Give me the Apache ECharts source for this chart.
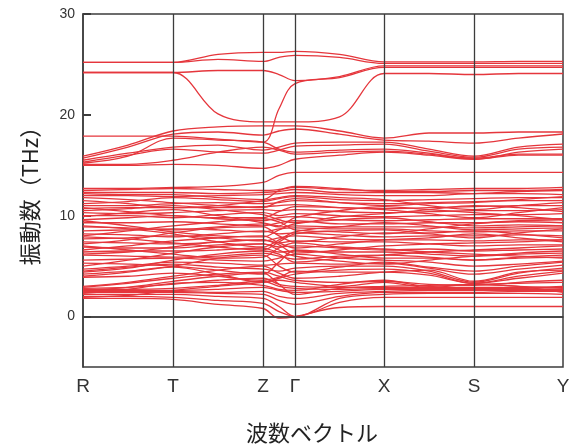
<!DOCTYPE html>
<html>
<head>
<meta charset="utf-8">
<script src="https://cdn.jsdelivr.net/npm/echarts@6/dist/echarts.min.js"></script>
<style>
html,body{margin:0;padding:0;background:#fff;}
#chart{width:579px;height:448px;}
</style>
</head>
<body>
<div id="chart"></div>
<script>
// Sample positions along the k-path (cumulative path length, arbitrary units)
// order: R, R-T, T, T-Z, Z, Z-Γ, Γ, Γ-X, X, X-S, S, S-Y, Y
const kPath = [0, 45, 90, 135, 180, 196, 212, 256.5, 301, 346, 391, 435.5, 480];

// High-symmetry points
const symLabels = ['R', 'T', 'Z', 'Γ', 'X', 'S', 'Y'];
const symPos = [0, 90, 180, 212, 301, 391, 480];

// Frequency axis tick values (THz)
const yTicks = [0, 10, 20, 30];

// Optical branches above 20 THz
const highBands = [
  [25.2, 25.2, 25.2, 26.0, 26.2, 26.2, 26.3, 26.0, 25.25, 25.25, 25.25, 25.3, 25.3],
  [25.2, 25.2, 25.2, 25.5, 25.3, 25.7, 25.9, 25.7, 25.1, 25.1, 25.1, 25.1, 25.1],
  [24.2, 24.2, 24.2, 24.4, 24.4, 24.0, 23.4, 23.8, 24.85, 24.85, 24.85, 24.85, 24.85],
  [24.2, 24.2, 24.2, 20.1, 19.3, 19.3, 19.3, 19.8, 24.1, 24.1, 24.0, 24.1, 24.1],
  [17.9, 17.9, 17.9, 17.6, 17.3, 20.6, 23.1, 23.7, 24.7, 24.7, 24.7, 24.7, 24.7]
];

// Branches between 14 and 19 THz
const midBands = [
  [15.9, 17.0, 18.4, 18.8, 18.9, 18.9, 18.9, 18.4, 17.7, 18.2, 18.2, 18.3, 18.3],
  [15.7, 16.8, 18.1, 18.3, 18.0, 18.4, 18.6, 18.1, 17.5, 17.4, 17.2, 17.7, 18.1],
  [15.5, 16.2, 16.8, 17.0, 16.5, 16.8, 17.2, 17.3, 17.3, 16.6, 15.9, 16.8, 17.1],
  [15.3, 16.0, 16.6, 16.3, 16.2, 16.5, 16.9, 17.0, 17.1, 16.4, 15.8, 16.6, 16.8],
  [15.1, 15.1, 15.5, 16.3, 16.8, 16.5, 16.1, 16.3, 16.4, 16.1, 15.7, 16.1, 16.1],
  [15.0, 15.0, 15.1, 15.0, 14.7, 15.0, 15.6, 16.0, 16.3, 16.0, 15.6, 16.0, 16.0],
  [12.7, 12.7, 12.8, 12.9, 13.3, 14.0, 14.3, 14.3, 14.3, 14.3, 14.3, 14.3, 14.3],
  [15.2, 15.9, 17.7, 17.5, 17.3, 16.6, 16.3, 16.5, 16.6, 16.2, 15.6, 16.3, 16.6]
];

// Acoustic and low-lying optical branches (0 - 13 THz)
const lowBands = [
  [1.8, 1.8, 1.7, 1.2, 0.8, -0.15, 0.0, 0.9, 1.0, 1.0, 1.0, 1.0, 1.0],
  [2.0, 2.0, 1.9, 1.6, 1.3, 0.5, 0.0, 1.4, 1.9, 1.9, 1.9, 1.9, 1.9],
  [2.2, 2.2, 2.2, 2.0, 1.8, 1.0, 0.0, 1.8, 2.2, 2.3, 2.3, 2.3, 2.2],
  [2.4, 2.4, 2.4, 2.3, 2.2, 1.6, 1.2, 2.0, 2.4, 2.4, 2.4, 2.5, 2.5],
  [2.5, 2.5, 2.5, 2.4, 2.5, 2.0, 1.8, 2.3, 2.5, 2.6, 2.6, 2.6, 2.6],
  [2.6, 2.6, 2.6, 2.7, 2.9, 2.6, 2.4, 2.5, 2.7, 2.7, 2.7, 2.7, 2.7],
  [2.7, 2.7, 2.8, 3.1, 3.5, 3.0, 2.8, 2.7, 2.8, 2.8, 2.8, 2.8, 2.9],
  [2.8, 2.9, 3.2, 3.6, 3.8, 3.2, 3.0, 2.9, 2.9, 2.9, 2.9, 2.9, 3.0],
  [1.9, 2.1, 2.6, 3.0, 3.4, 3.6, 3.4, 3.0, 3.4, 2.9, 3.2, 3.0, 2.4],
  [2.3, 2.7, 3.3, 3.4, 3.1, 2.7, 2.6, 3.2, 3.6, 3.0, 3.2, 3.0, 2.8],
  [3.9, 4.0, 4.3, 4.0, 3.6, 3.9, 4.5, 4.4, 4.4, 4.1, 3.3, 3.8, 4.3],
  [4.2, 4.5, 4.9, 4.2, 3.4, 3.8, 4.2, 4.6, 4.7, 4.3, 3.3, 4.0, 4.5],
  [4.5, 4.9, 5.2, 4.9, 4.7, 4.5, 4.8, 5.0, 5.0, 4.5, 3.4, 4.3, 4.8],
  [4.7, 5.0, 5.4, 5.3, 5.1, 5.2, 5.3, 5.2, 5.3, 4.8, 4.2, 4.7, 5.1],
  [5.6, 5.7, 5.8, 5.6, 5.5, 5.8, 6.2, 5.8, 5.6, 5.4, 5.0, 5.2, 5.5],
  [6.1, 6.0, 5.9, 6.0, 6.3, 6.0, 5.7, 6.0, 6.1, 5.9, 5.6, 5.8, 5.9],
  [6.4, 6.5, 6.5, 6.6, 6.8, 6.4, 6.5, 6.4, 6.4, 6.2, 6.0, 6.2, 6.3],
  [6.9, 6.8, 6.8, 7.1, 7.2, 6.9, 7.0, 6.8, 6.6, 6.7, 6.5, 6.6, 6.7],
  [7.4, 7.3, 7.2, 7.4, 7.6, 7.3, 7.5, 7.4, 7.4, 7.2, 7.0, 7.1, 7.1],
  [7.7, 7.8, 8.0, 7.8, 7.5, 7.8, 8.0, 7.7, 7.6, 7.6, 7.5, 7.6, 7.6],
  [8.2, 8.1, 7.9, 8.2, 8.5, 8.2, 8.3, 8.1, 7.9, 8.0, 8.0, 8.1, 8.0],
  [8.5, 8.6, 8.7, 8.6, 8.4, 8.7, 8.8, 8.7, 8.7, 8.5, 8.4, 8.5, 8.5],
  [8.9, 8.8, 8.6, 8.9, 9.2, 8.9, 9.0, 8.9, 8.9, 8.9, 8.8, 8.9, 9.0],
  [9.3, 9.3, 9.4, 9.2, 9.0, 9.3, 9.5, 9.2, 9.2, 9.3, 9.3, 9.4, 9.3],
  [9.6, 9.8, 10.0, 9.7, 9.5, 9.8, 9.9, 9.6, 9.5, 9.6, 9.7, 9.7, 9.7],
  [10.0, 10.0, 9.8, 10.1, 10.3, 10.0, 10.2, 10.0, 9.9, 10.0, 10.1, 10.1, 10.2],
  [10.3, 10.2, 10.3, 10.5, 10.6, 10.5, 10.6, 10.4, 10.3, 10.4, 10.5, 10.5, 10.6],
  [10.7, 10.8, 10.8, 10.8, 10.9, 11.0, 11.1, 10.8, 10.7, 10.8, 10.9, 11.0, 11.0],
  [11.0, 11.0, 11.2, 11.3, 11.2, 11.3, 11.5, 11.3, 11.2, 11.3, 11.4, 11.5, 11.5],
  [11.2, 11.4, 11.8, 11.6, 11.4, 11.7, 11.9, 11.6, 11.5, 11.6, 11.7, 11.8, 11.8],
  [12.0, 12.0, 11.9, 12.0, 12.1, 12.2, 12.3, 12.1, 12.0, 12.0, 12.2, 12.2, 12.1],
  [12.3, 12.3, 12.3, 12.2, 12.3, 12.4, 12.6, 12.3, 12.3, 12.3, 12.2, 12.4, 12.5],
  [12.5, 12.6, 12.7, 12.6, 12.5, 12.6, 12.8, 12.6, 12.5, 12.6, 12.7, 12.7, 12.8],
  [5.0, 5.6, 6.3, 6.9, 7.2, 6.6, 6.0, 5.5, 5.2, 5.6, 6.0, 6.3, 6.5],
  [7.0, 6.6, 6.2, 5.8, 5.9, 6.8, 7.3, 6.9, 6.7, 6.4, 6.2, 6.0, 5.8],
  [9.5, 9.0, 8.4, 8.0, 7.9, 8.6, 9.2, 9.6, 9.8, 9.4, 9.0, 9.1, 9.0],
  [8.0, 8.5, 9.0, 9.4, 9.7, 9.4, 8.6, 8.4, 8.2, 8.7, 9.2, 9.5, 9.6],
  [10.8, 10.4, 10.0, 9.8, 9.8, 10.4, 10.9, 10.8, 10.6, 10.2, 9.8, 10.3, 10.8],
  [11.5, 11.2, 10.8, 11.0, 11.5, 11.8, 12.0, 11.8, 11.6, 11.0, 10.6, 11.0, 11.3],
  [4.4, 4.8, 5.6, 6.2, 6.5, 6.2, 5.4, 5.8, 6.1, 6.4, 6.6, 6.8, 7.0],
  [6.6, 7.0, 7.5, 7.8, 8.0, 7.3, 6.8, 7.2, 7.6, 7.8, 8.2, 7.8, 7.4],
  [2.9, 3.3, 3.8, 4.2, 4.4, 4.0, 3.6, 3.4, 3.5, 3.2, 3.1, 3.4, 3.6],
  [4.0, 4.4, 5.0, 5.8, 6.1, 5.0, 4.4, 4.9, 5.4, 4.9, 4.5, 5.0, 5.4],
  [5.3, 5.2, 5.0, 4.6, 4.2, 5.4, 6.6, 6.2, 5.8, 5.8, 5.6, 5.9, 6.1],
  [7.2, 7.6, 8.3, 8.8, 8.9, 8.0, 7.4, 7.9, 8.3, 8.2, 7.8, 8.3, 8.7],
  [9.0, 8.7, 8.2, 7.4, 6.9, 7.6, 8.4, 8.9, 9.3, 9.0, 8.6, 8.7, 8.8],
  [10.5, 10.7, 11.0, 10.6, 10.1, 9.6, 9.3, 9.9, 10.2, 10.6, 11.0, 10.8, 10.4],
  [11.8, 11.6, 11.3, 11.0, 10.8, 11.4, 11.7, 11.3, 11.0, 11.2, 11.3, 11.6, 11.9],
  [6.2, 6.4, 6.9, 7.4, 7.6, 7.1, 6.3, 6.6, 7.0, 7.2, 7.3, 7.4, 7.6],
  [3.0, 3.4, 4.0, 4.6, 5.0, 4.3, 3.8, 4.0, 4.4, 4.6, 3.5, 4.4, 4.6],
  [2.6, 2.9, 3.5, 4.0, 4.3, 3.2, 2.2, 2.8, 3.0, 3.1, 3.2, 3.3, 3.4],
  [12.2, 12.1, 12.1, 11.8, 11.6, 12.5, 12.9, 12.7, 12.4, 12.4, 12.5, 12.5, 12.6],
  [7.9, 7.7, 7.3, 6.9, 6.6, 7.4, 8.2, 8.5, 8.6, 8.3, 8.5, 8.2, 7.8],
  [9.9, 10.3, 10.6, 10.0, 9.3, 9.0, 9.8, 10.5, 10.9, 10.6, 10.3, 10.0, 9.6]
];

const BAND_COLOR = '#e5363c';
const FRAME_COLOR = '#3c3c3c';

const allBands = highBands.concat(midBands, lowBands);

const bandSeries = allBands.map(function (band) {
  return {
    type: 'line',
    data: kPath.map(function (k, i) { return [k, band[i]]; }),
    smooth: 0.35,
    showSymbol: false,
    silent: true,
    lineStyle: { color: BAND_COLOR, width: 1.3 },
    z: 2
  };
});

// Vertical separators at the inner high-symmetry points and the zero-frequency line
const guideSeries = {
  type: 'line',
  data: [],
  silent: true,
  z: 5,
  markLine: {
    silent: true,
    symbol: 'none',
    animation: false,
    label: { show: false },
    lineStyle: { color: FRAME_COLOR, width: 1.3, type: 'solid' },
    data: symPos.slice(1, -1).map(function (x) { return { xAxis: x }; })
      .concat([{ yAxis: 0, lineStyle: { color: FRAME_COLOR, width: 1.5, type: 'solid' } }])
  }
};

const chart = echarts.init(document.getElementById('chart'), null, { renderer: 'canvas' });

chart.setOption({
  animation: false,
  backgroundColor: '#ffffff',
  grid: {
    left: 83, right: 16, top: 14, bottom: 81,
    show: true, borderColor: FRAME_COLOR, borderWidth: 1.5,
    backgroundColor: 'transparent'
  },
  xAxis: {
    type: 'value',
    min: 0,
    max: 480,
    axisLine: { show: true, lineStyle: { color: FRAME_COLOR, width: 1.5 } },
    axisTick: { show: false },
    splitLine: { show: false },
    axisLabel: {
      customValues: symPos,
      formatter: function (v) { return symLabels[symPos.indexOf(v)]; },
      color: '#333',
      fontSize: 19,
      margin: 10,
      fontFamily: 'Liberation Sans, Arial, sans-serif'
    }
  },
  yAxis: {
    type: 'value',
    min: -5,
    max: 30,
    name: '振動数（THz）',
    nameLocation: 'middle',
    nameGap: 42,
    nameTextStyle: {
      fontSize: 22,
      color: '#222',
      fontFamily: 'Noto Sans CJK JP, sans-serif'
    },
    axisLine: { show: true, lineStyle: { color: FRAME_COLOR, width: 1.5 } },
    axisTick: {
      show: true,
      inside: true,
      length: 8,
      customValues: yTicks,
      lineStyle: { color: FRAME_COLOR, width: 2 }
    },
    splitLine: { show: false },
    axisLabel: {
      customValues: yTicks,
      color: '#333',
      fontSize: 14,
      margin: 8,
      fontFamily: 'Liberation Sans, Arial, sans-serif'
    }
  },
  graphic: [{
    type: 'text',
    style: {
      text: '波数ベクトル',
      x: 312,
      y: 433,
      textAlign: 'center',
      textVerticalAlign: 'middle',
      fontSize: 22,
      fill: '#222',
      fontFamily: 'Noto Sans CJK JP, sans-serif'
    }
  }],
  series: bandSeries.concat([guideSeries])
});
</script>
</body>
</html>
